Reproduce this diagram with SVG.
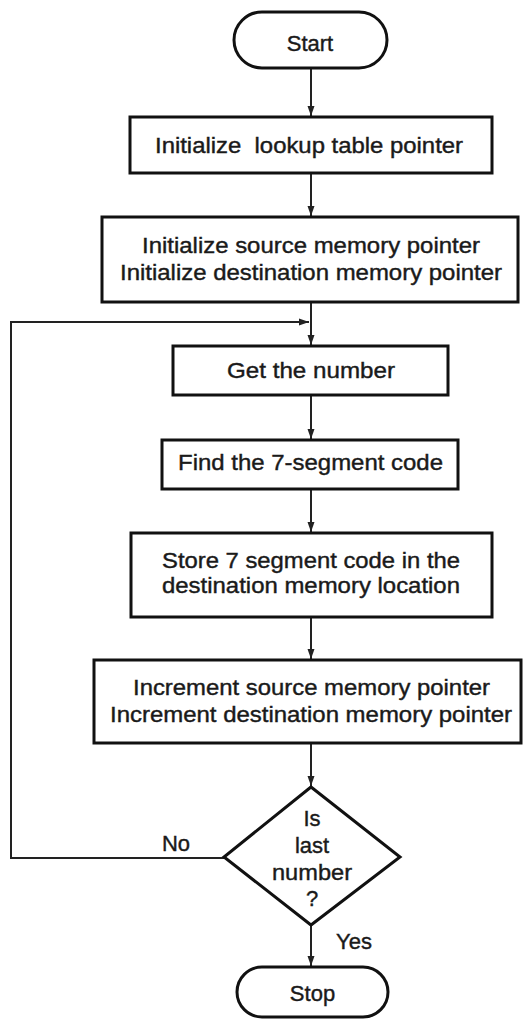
<svg xmlns="http://www.w3.org/2000/svg" width="523" height="1021" viewBox="0 0 523 1021">
<style>
.box{fill:#fff;stroke:#111;stroke-width:3}
.ln{fill:none;stroke:#222;stroke-width:2}
.t{font-family:"Liberation Sans",Arial,sans-serif;font-size:22px;fill:#1a1a1a;stroke:#1a1a1a;stroke-width:0.4;text-anchor:middle}
</style>
<defs>
<marker id="ah" markerWidth="12" markerHeight="10" refX="10" refY="4" orient="auto" markerUnits="userSpaceOnUse">
<path d="M0,0.5 L10,4 L0,7.5 Z" fill="#222"/>
</marker>
</defs>
<rect width="523" height="1021" fill="#fff"/>
<g id="connectors">
<line class="ln" x1="311" y1="68" x2="311" y2="116" marker-end="url(#ah)"/>
<line class="ln" x1="311" y1="173" x2="311" y2="216" marker-end="url(#ah)"/>
<line class="ln" x1="311" y1="302" x2="311" y2="345" marker-end="url(#ah)"/>
<line class="ln" x1="311" y1="395" x2="311" y2="439" marker-end="url(#ah)"/>
<line class="ln" x1="311" y1="489" x2="311" y2="532" marker-end="url(#ah)"/>
<line class="ln" x1="311" y1="617" x2="311" y2="659" marker-end="url(#ah)"/>
<line class="ln" x1="311" y1="743" x2="311" y2="786" marker-end="url(#ah)"/>
<line class="ln" x1="311" y1="925" x2="311" y2="966" marker-end="url(#ah)"/>
<polyline class="ln" points="224,858 11,858 11,322 309,322" marker-end="url(#ah)"/>
<text class="t" x="176" y="851">No</text>
<text class="t" x="354" y="949">Yes</text>
</g>
<g id="start">
<rect class="box" x="234" y="12" width="153" height="56" rx="28"/>
<text class="t" x="310" y="51">Start</text>
</g>
<g id="init-lookup">
<rect class="box" x="130" y="117" width="362" height="56"/>
<text class="t" x="309" y="153" textLength="308" lengthAdjust="spacingAndGlyphs" xml:space="preserve">Initialize  lookup table pointer</text>
</g>
<g id="init-pointers">
<rect class="box" x="102" y="217" width="416" height="85"/>
<text class="t" x="311" y="253" textLength="338" lengthAdjust="spacingAndGlyphs">Initialize source memory pointer</text>
<text class="t" x="311" y="280" textLength="382" lengthAdjust="spacingAndGlyphs">Initialize destination memory pointer</text>
</g>
<g id="get-number">
<rect class="box" x="173" y="346" width="275" height="49"/>
<text class="t" x="311" y="378" textLength="168" lengthAdjust="spacingAndGlyphs">Get the number</text>
</g>
<g id="find-code">
<rect class="box" x="162" y="440" width="296" height="49"/>
<text class="t" x="310.5" y="470" textLength="265" lengthAdjust="spacingAndGlyphs">Find the 7-segment code</text>
</g>
<g id="store-code">
<rect class="box" x="131" y="533" width="361" height="84"/>
<text class="t" x="311" y="568" textLength="298" lengthAdjust="spacingAndGlyphs">Store 7 segment code in the</text>
<text class="t" x="311" y="593" textLength="298" lengthAdjust="spacingAndGlyphs">destination memory location</text>
</g>
<g id="increment">
<rect class="box" x="94" y="660" width="427" height="83"/>
<text class="t" x="311.5" y="695" textLength="357" lengthAdjust="spacingAndGlyphs">Increment source memory pointer</text>
<text class="t" x="311" y="722" textLength="402" lengthAdjust="spacingAndGlyphs">Increment destination memory pointer</text>
</g>
<g id="decision">
<polygon class="box" points="311,787 400,857 311,925 224,857"/>
<text class="t" x="312" y="826">Is</text>
<text class="t" x="312" y="853">last</text>
<text class="t" x="312" y="880" textLength="80" lengthAdjust="spacingAndGlyphs">number</text>
<text class="t" x="312" y="906">?</text>
</g>
<g id="stop">
<rect class="box" x="237" y="967" width="151" height="50" rx="25"/>
<text class="t" x="312.5" y="1001">Stop</text>
</g>
</svg>
